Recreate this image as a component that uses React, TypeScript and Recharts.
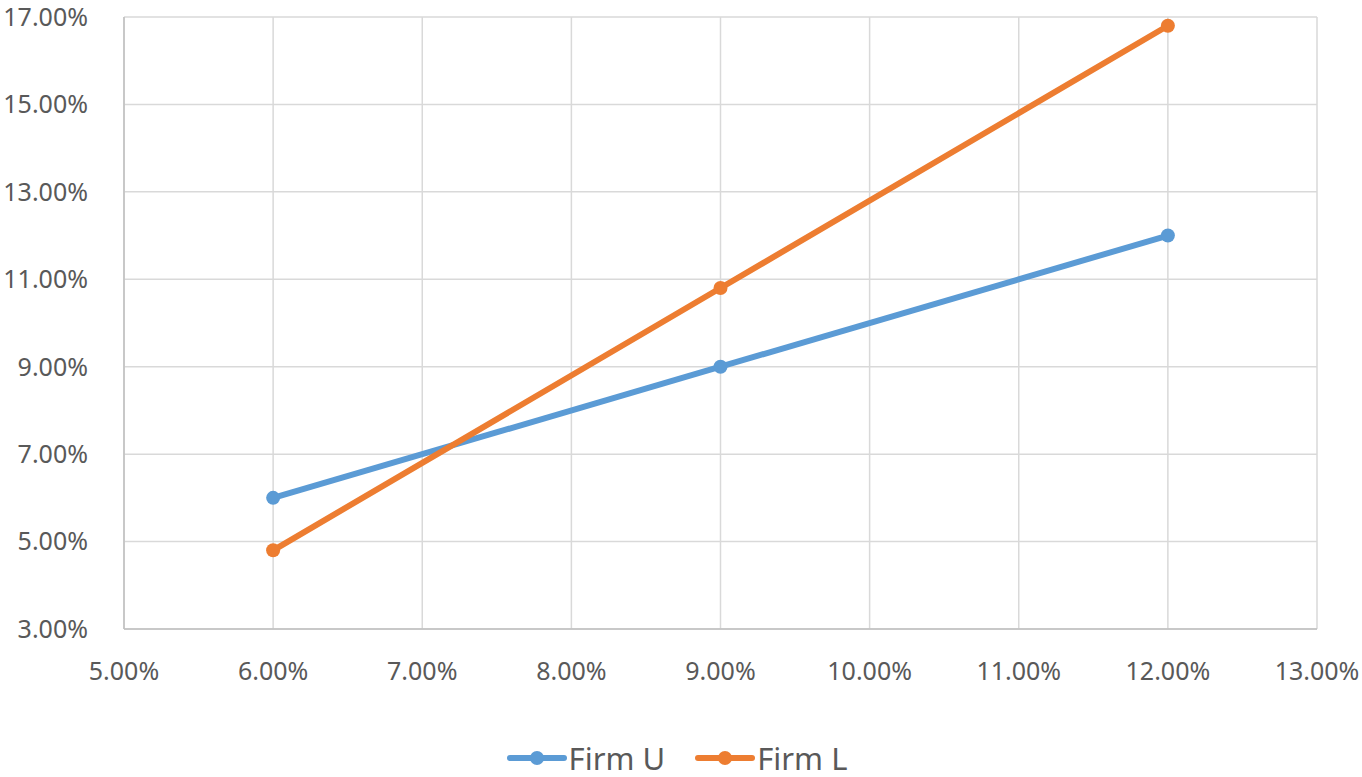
import React from 'react';
import { LineChart, Line, XAxis, YAxis, CartesianGrid, Legend } from 'recharts';

const xValues = [0.06, 0.09, 0.12];
const firmU = [0.06, 0.09, 0.12];
const firmL = [0.048, 0.108, 0.168];
const xTicks = [0.05, 0.06, 0.07, 0.08, 0.09, 0.1, 0.11, 0.12, 0.13];
const yTicks = [0.03, 0.05, 0.07, 0.09, 0.11, 0.13, 0.15, 0.17];

const data = xValues.map((x, i) => ({ x, u: firmU[i], l: firmL[i] }));

const BLUE = '#5B9BD5';
const ORANGE = '#ED7D31';
const FONT = '"Noto Sans", sans-serif';
const fmt = (v: number) => (v * 100).toFixed(2) + '%';

const LegendContent = () => {
  const items = [
    { name: 'Firm U', color: BLUE },
    { name: 'Firm L', color: ORANGE },
  ];
  return (
    <div style={{ display: 'flex', justifyContent: 'center', alignItems: 'center', height: 38, width: 1362, paddingRight: 8, boxSizing: 'border-box', fontFamily: FONT, fontSize: 31, color: '#595959' }}>
      {items.map((it, i) => (
        <div key={it.name} style={{ display: 'flex', alignItems: 'center', marginLeft: i ? 30 : 0 }}>
          <svg width={60} height={20}>
            <line x1={3} y1={10} x2={57} y2={10} stroke={it.color} strokeWidth={6} strokeLinecap="round" />
            <circle cx={30} cy={10} r={7} fill={it.color} />
          </svg>
          <span style={{ marginLeft: 2 }}>{it.name}</span>
        </div>
      ))}
    </div>
  );
};

export default function App() {
  return (
    <div style={{ position: 'absolute', left: 0, top: 0, width: 1362, height: 777, background: '#fff' }}>
      <LineChart width={1362} height={777} data={data} margin={{ top: 17, right: 45, bottom: 0, left: 0 }}>
        <CartesianGrid stroke="#d9d9d9" strokeWidth={1.5} />
        <XAxis
          dataKey="x"
          type="number"
          domain={[0.05, 0.13]}
          ticks={xTicks}
          tickFormatter={fmt}
          height={110}
          tickSize={0}
          tickMargin={33}
          axisLine={{ stroke: '#bfbfbf', strokeWidth: 1.5 }}
          tick={{ fill: '#595959', fontSize: 25, fontFamily: FONT }}
          interval={0}
        />
        <YAxis
          type="number"
          domain={[0.03, 0.17]}
          ticks={yTicks}
          tickFormatter={fmt}
          width={124}
          tickSize={0}
          tickMargin={36}
          axisLine={{ stroke: '#bfbfbf', strokeWidth: 1.5 }}
          tick={{ fill: '#595959', fontSize: 25, fontFamily: FONT }}
          interval={0}
        />
        <Legend verticalAlign="bottom" height={38} wrapperStyle={{ left: 0, width: 1362 }} content={<LegendContent />} />
        <Line dataKey="u" name="Firm U" stroke={BLUE} strokeWidth={6} dot={{ r: 7, fill: BLUE, stroke: BLUE, strokeWidth: 0 }} isAnimationActive={false} />
        <Line dataKey="l" name="Firm L" stroke={ORANGE} strokeWidth={6} dot={{ r: 7, fill: ORANGE, stroke: ORANGE, strokeWidth: 0 }} isAnimationActive={false} />
      </LineChart>
    </div>
  );
}
